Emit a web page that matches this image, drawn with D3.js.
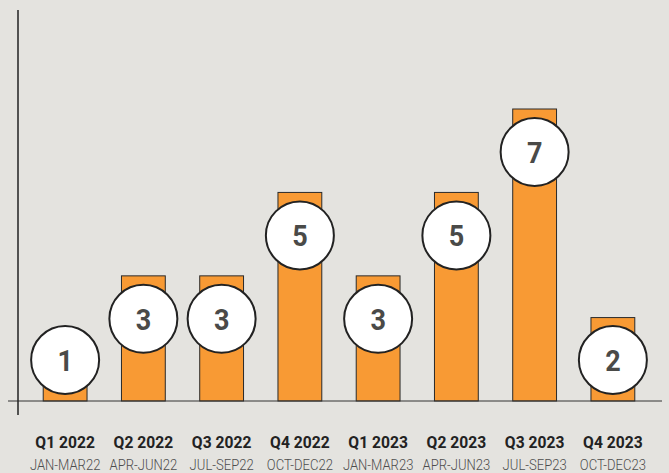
<!DOCTYPE html>
<html>
<head>
	<meta charset="UTF-8">
	<title>Quarterly counts</title>
	<script src="https://cdn.jsdelivr.net/npm/d3@7"></script>
	<style>
		html, body {
			margin: 0;
			padding: 0;
			background: #e4e3df;
		}
		svg { display: block; }
		.q { font-family: Roboto, "Liberation Sans", sans-serif; }
	</style>
</head>
<body>
	<div id="chart"></div>
	<script>
		var quarters = ["Q1 2022", "Q2 2022", "Q3 2022", "Q4 2022", "Q1 2023", "Q2 2023", "Q3 2023", "Q4 2023"];
		var months = ["JAN-MAR22", "APR-JUN22", "JUL-SEP22", "OCT-DEC22", "JAN-MAR23", "APR-JUN23", "JUL-SEP23", "OCT-DEC23"];
		var counts = [1, 3, 3, 5, 3, 5, 7, 2];

		var W = 669, H = 473;
		var svg = d3.select("#chart").append("svg")
			.attr("width", W)
			.attr("height", H);

		var x = d3.scaleBand()
			.domain(quarters)
			.range([26, 652])
			.paddingInner(0.44)
			.paddingOuter(0.22);

		var y = d3.scaleLinear()
			.domain([0, 7])
			.range([401, 109]);

		// bars
		svg.selectAll("rect.bar")
			.data(counts)
			.enter().append("rect")
			.attr("class", "bar")
			.attr("x", function(d, i) { return x(quarters[i]); })
			.attr("y", function(d) { return y(d); })
			.attr("width", x.bandwidth())
			.attr("height", function(d) { return y(0) - y(d); })
			.attr("fill", "#f89a34")
			.attr("stroke", "#2a2a2a")
			.attr("stroke-width", 1);

		// axis lines
		svg.append("line")
			.attr("x1", 8).attr("x2", 662)
			.attr("y1", y(0)).attr("y2", y(0))
			.attr("stroke", "#333").attr("stroke-width", 1);
		svg.append("line")
			.attr("x1", 18).attr("x2", 18)
			.attr("y1", 10).attr("y2", 415)
			.attr("stroke", "#222").attr("stroke-width", 1.5);

		// value bubbles
		function cy(d) { return Math.min(y(d) + 43, y(0) - 41); }
		var bub = svg.selectAll("g.bub")
			.data(counts)
			.enter().append("g")
			.attr("class", "bub")
			.attr("transform", function(d, i) {
				return "translate(" + (x(quarters[i]) + x.bandwidth() / 2) + "," + cy(d) + ")";
			});
		bub.append("circle")
			.attr("r", 34)
			.attr("fill", "#fff")
			.attr("stroke", "#222")
			.attr("stroke-width", 2);
		bub.append("text")
			.attr("class", "q")
			.attr("text-anchor", "middle")
			.attr("dy", "0.36em")
			.attr("transform", "scale(0.9,1)")
			.attr("font-size", 30)
			.attr("font-weight", "bold")
			.attr("fill", "#4a4a48")
			.text(function(d) { return d; });

		// category labels
		var lab = svg.selectAll("g.lab")
			.data(quarters)
			.enter().append("g")
			.attr("class", "lab")
			.attr("transform", function(d) { return "translate(" + (x(d) + x.bandwidth() / 2) + ",0)"; });
		lab.append("text")
			.attr("class", "q")
			.attr("text-anchor", "middle")
			.attr("y", 448)
			.attr("transform", "scale(0.92,1)")
			.attr("font-size", 17)
			.attr("font-weight", "bold")
			.attr("fill", "#222")
			.text(function(d) { return d; });
		lab.append("text")
			.attr("class", "q")
			.attr("text-anchor", "middle")
			.attr("y", 470)
			.attr("transform", "scale(0.9,1)")
			.attr("font-size", 14.5)
			.attr("font-weight", 300)
			.attr("fill", "#4d4d4d")
			.text(function(d, i) { return months[i]; });
	</script>
</body>
</html>
